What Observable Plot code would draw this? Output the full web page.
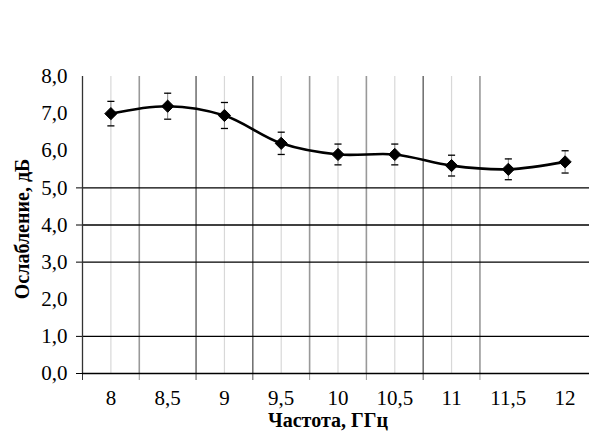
<!DOCTYPE html>
<html>
<head>
<meta charset="utf-8">
<script src="https://cdn.jsdelivr.net/npm/d3@7"></script>
<script src="https://cdn.jsdelivr.net/npm/@observablehq/plot@0.6"></script>
<style>
  html, body { margin: 0; padding: 0; background: #fff; }
  #chart svg { display: block; }
  #chart svg, #chart svg text { font-family: "Liberation Serif", "Times New Roman", serif !important; font-variant: normal !important; }
</style>
</head>
<body>
<div id="chart"></div>
<script>
// Data
const freq  = [8, 8.5, 9, 9.5, 10, 10.5, 11, 11.5, 12];
const atten = [7.0, 7.2, 6.95, 6.2, 5.9, 5.9, 5.6, 5.5, 5.7];
const err   = [0.33, 0.35, 0.35, 0.3, 0.28, 0.28, 0.28, 0.28, 0.3];

// Axis / grid ticks
const yTicks = [0, 1, 2, 3, 4, 5, 6, 7, 8];
const gridY = [1, 3, 4, 5];
const boundariesDark = [8.75, 9.25, 10.75];
const boundariesLight = [8.25, 9.75, 10.25, 11.25];
const centerLines = [8, 9, 9.5, 10, 10.5, 11];

const xTitle = "Частота, ГГц";
const yTitle = "Ослабление, дБ";

const data = freq.map((f, i) => ({f, v: atten[i], lo: atten[i] - err[i], hi: atten[i] + err[i]}));
const comma = d => String(d).replace(".", ",");

const capSymbol = {
  draw(ctx, size) {
    const w = Math.sqrt(size) / 2;
    ctx.moveTo(-w, 0);
    ctx.lineTo(w, 0);
  }
};

const font = '"Liberation Serif", "Times New Roman", serif';

const chart = Plot.plot({
  width: 589,
  height: 436,
  marginLeft: 82,
  marginRight: -4,
  marginTop: 76,
  marginBottom: 63,
  style: {fontFamily: font, fontSize: "21px", color: "#000", background: "#fff", overflow: "visible"},
  x: {domain: [7.75, 12.25], axis: null, label: null},
  y: {domain: [0, 8], axis: null, label: null},
  marks: [
    // light centre gridlines
    Plot.ruleX(centerLines, {stroke: "#d8d8d8", strokeWidth: 1.2}),
    // category boundary gridlines
    Plot.ruleX(boundariesLight, {stroke: "#999", strokeWidth: 1.6}),
    Plot.ruleX(boundariesDark, {stroke: "#555", strokeWidth: 1.3}),
    // horizontal gridlines
    Plot.ruleY(gridY, {stroke: "#000", strokeWidth: 1.3}),
    // tick marks
    Plot.axisY([0, ...gridY], {tickSize: 6, tickFormat: () => "", stroke: "#000", label: null}),
    Plot.axisX(boundariesLight, {tickSize: 7, tickFormat: () => "", stroke: "#999", label: null}),
    Plot.axisX(boundariesDark, {tickSize: 7, tickFormat: () => "", stroke: "#555", label: null}),
    Plot.axisX([7.75], {tickSize: 7, tickFormat: () => "", stroke: "#333", label: null}),
    // axis lines
    Plot.ruleX([7.75], {stroke: "#333", strokeWidth: 1.3}),
    Plot.ruleY([0], {stroke: "#000", strokeWidth: 1.3}),
    // tick labels
    Plot.axisY(yTicks, {tickSize: 0, tickPadding: 15, tickFormat: d => d.toFixed(1).replace(".", ","), fontSize: 21, label: null}),
    Plot.axisX(freq, {tickSize: 0, tickPadding: 17, tickFormat: comma, fontSize: 21, label: null}),
    // error bars
    Plot.ruleX(data, {x: "f", y1: "lo", y2: "hi", stroke: "#888", strokeWidth: 1}),
    Plot.dot(data, {x: "f", y: "hi", symbol: capSymbol, r: 4, stroke: "#000", strokeWidth: 1.3, fill: "none"}),
    Plot.dot(data, {x: "f", y: "lo", symbol: capSymbol, r: 4, stroke: "#000", strokeWidth: 1.3, fill: "none"}),
    // smoothed line
    Plot.line(data, {x: "f", y: "v", curve: "catmull-rom", stroke: "#000", strokeWidth: 2.6}),
    // markers
    Plot.dot(data, {x: "f", y: "v", symbol: "diamond2", r: 5.5, fill: "#000", stroke: "#000", strokeWidth: 1}),
    // axis titles
    Plot.text([xTitle], {frameAnchor: "bottom", textAnchor: "middle", dx: -10, dy: 53, lineAnchor: "bottom", fontWeight: "bold", fontSize: 20}),
    Plot.text([yTitle], {frameAnchor: "left", textAnchor: "middle", dx: -60, dy: 4, rotate: -90, fontWeight: "bold", fontSize: 20})
  ]
});

document.getElementById("chart").appendChild(chart);
</script>
</body>
</html>
